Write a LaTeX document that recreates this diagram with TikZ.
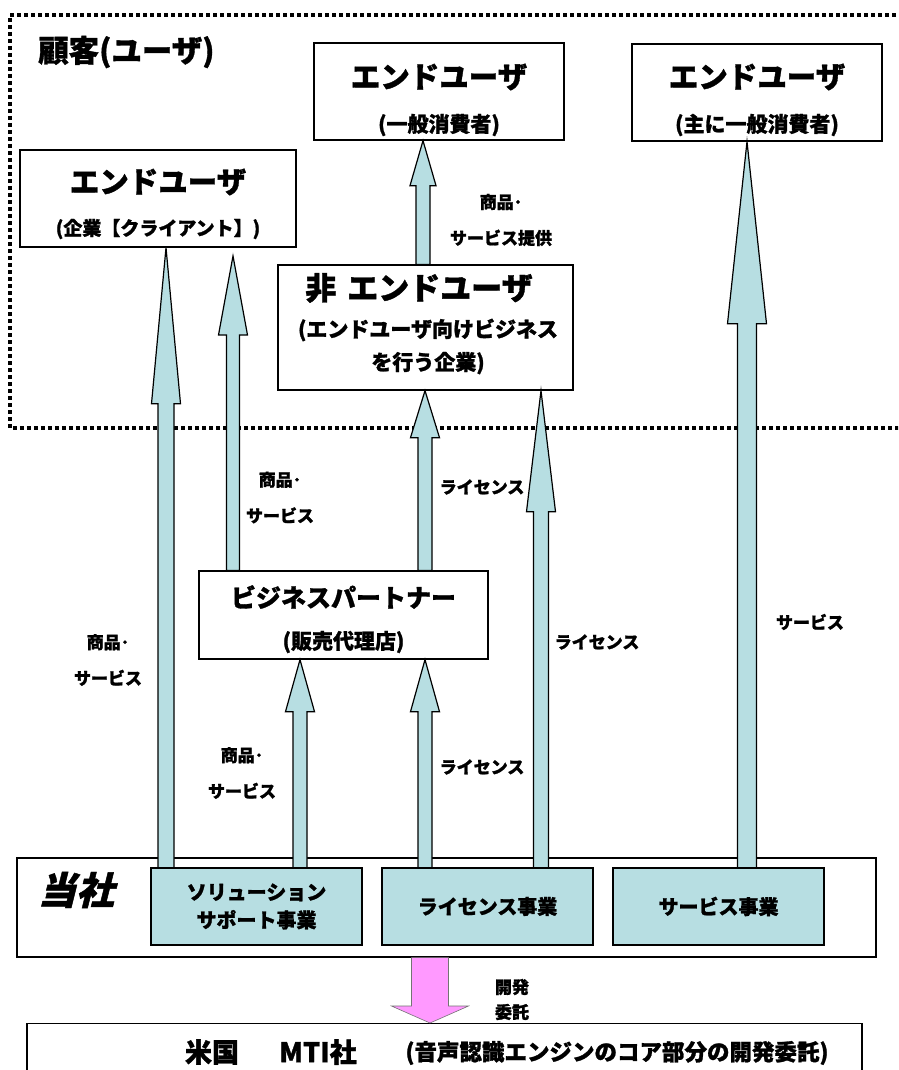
\documentclass[tikz,border=0pt]{standalone}
\usepackage{fontspec}
\setmainfont{Noto Sans CJK JP}[BoldFeatures={FakeBold=1.2}]
\newfontfamily\jpsl{Noto Sans CJK JP}[FakeSlant=0.25, BoldFeatures={FakeBold=1.2}]
\usetikzlibrary{calc}
\definecolor{teal1}{RGB}{183,222,226}
\definecolor{pink1}{RGB}{255,153,255}
\newcommand\blockarrow[6][barrow]{%
  \draw[#1] ($(#2)+(-#5,0)$) -- ($(#3)+(-#5,#4)$) -- ($(#3)+(-#6,#4)$) -- (#3)
    -- ($(#3)+(#6,#4)$) -- ($(#3)+(#5,#4)$) -- ($(#2)+(#5,0)$) -- cycle;}
\tikzset{
  box/.style={draw, line width=1.3pt, fill=white, inner sep=0pt},
  subbox/.style={draw, line width=1.3pt, fill=teal1, inner sep=0pt,
    minimum width=211pt, minimum height=77pt, align=center,
    font=\bfseries\fontsize{20}{28}\selectfont},
  barrow/.style={draw, line width=1.2pt, fill=teal1, line join=miter},
  parrow/.style={draw=black!55, line width=0.6pt, fill=pink1, line join=miter},
  lbl/.style={font=\bfseries\fontsize{17}{36}\selectfont, align=center, inner sep=0pt},
  ttl/.style={font=\bfseries\fontsize{29.5}{34}\selectfont, inner sep=0pt},
  subt/.style={font=\bfseries\fontsize{21}{33}\selectfont, inner sep=0pt, align=center},
  dotb/.style={line width=3.5pt, dash pattern=on 4pt off 3pt},
}
\begin{document}
\begin{tikzpicture}[x=1pt,y=-1pt]
\clip (0,0) rectangle (898,1070);
\fill[white] (0,0) rectangle (898,1070);
% customer region
\draw[dotb] (910,15) -- (10,15) -- (10,428) -- (910,428);
\node[anchor=west, inner sep=0pt, font=\bfseries\fontsize{30.5}{34}\selectfont] (cust) at (38,52) {顧客(ユーザ)};

% boxes
\node[box, minimum width=276pt, minimum height=97pt] (boxA) at (158,198.5) {};
\node[box, minimum width=250pt, minimum height=97pt] (boxB) at (439,91.5) {};
\node[box, minimum width=250pt, minimum height=97pt] (boxC) at (757,92.5) {};
\node[box, minimum width=295pt, minimum height=125pt] (boxD) at (425.5,327.5) {};
\node[box, minimum width=289pt, minimum height=88pt] (boxE) at (343.5,615) {};
\node[box, minimum width=859pt, minimum height=99pt] (comp) at (446.5,907.5) {};
\node[box, minimum width=835pt, minimum height=90pt, anchor=north] (mti) at (444.5,1023) {};

% box texts
\node[ttl] (tA) at (158,182) {エンドユーザ};
\node[subt, font=\bfseries\fontsize{19}{30}\selectfont] (sA) at (158,229) {(企業【クライアント】)};
\node[ttl] (tB) at (439,77) {エンドユーザ};
\node[subt] (sB) at (439,125) {(一般消費者)};
\node[ttl] (tC) at (757,77) {エンドユーザ};
\node[subt] (sC) at (757,125) {(主に一般消費者)};
\node[ttl, font=\bfseries\fontsize{31}{34}\selectfont] (tD) at (419,288) {非\hspace{0.35em}エンドユーザ};
\node[subt] (sD) at (428,346.5) {(エンドユーザ向けビジネス\\を行う企業)};
\node[ttl, font=\bfseries\fontsize{25}{30}\selectfont] (tE) at (343.5,597) {ビジネスパートナー};
\node[subt] (sE) at (343.5,642) {(販売代理店)};
\node[inner sep=0pt, font=\jpsl\bfseries\fontsize{38}{42}\selectfont] (tosha) at (76,890) {当社};

% arrow columns
\coordinate (c1) at (166,0);
\coordinate (c2) at (233,0);
\coordinate (c3) at (300,0);
\coordinate (c4) at (425,0);
\coordinate (c6) at (541,0);
\coordinate (c7) at (423,0);
\coordinate (c8) at (747,0);
\coordinate (c9) at (430,0);
\coordinate (a2tip) at (233,256);

% teal block arrows
\blockarrow{c1 |- 0,868}{c1 |- boxA.south}{156}{8}{14.5}
\blockarrow{c2 |- boxE.north}{a2tip}{79}{6.5}{14.5}
\blockarrow{c3 |- 0,868}{c3 |- boxE.south}{52}{7}{14.5}
\blockarrow{c4 |- boxE.north}{c4 |- boxD.south}{47}{7}{14.5}
\blockarrow{c4 |- 0,868}{c4 |- boxE.south}{52}{7}{14.5}
\blockarrow{c6 |- 0,868}{c6 |- boxD.south}{121}{7.5}{14.5}
\blockarrow{c7 |- boxD.north}{c7 |- boxB.south}{45}{7}{13}
\blockarrow{c8 |- 0,868}{c8 |- boxC.south}{182}{9.5}{19.5}

% business units
\node[subbox] (s1) at (256.5,906.5) {ソリューション\\サポート事業};
\node[subbox] (s2) at (487.5,906.5) {ライセンス事業};
\node[subbox] (s3) at (718.5,906.5) {サービス事業};

% development arrow
\blockarrow[parrow]{c9 |- comp.south}{c9 |- mti.north}{-17}{18.5}{38.5}

% arrow labels
\node[lbl] (l1) at (108,660) {商品･\\サービス};
\node[lbl] (l2) at (280,497.5) {商品･\\サービス};
\node[lbl] (l3) at (242,773) {商品･\\サービス};
\node[lbl] (l7) at (501,220) {商品･\\サービス提供};
\node[lbl] (l4) at (482,487) {ライセンス};
\node[lbl] (l6) at (597,642) {ライセンス};
\node[lbl] (l5) at (482,767) {ライセンス};
\node[lbl] (l8) at (810,622) {サービス};
\node[lbl, font=\bfseries\fontsize{17}{25}\selectfont] (l9) at (512,999.5) {開発\\委託};

% MTI row
\node[inner sep=0pt, font=\bfseries\fontsize{27}{30}\selectfont] (us) at (212,1052) {米国};
\node[inner sep=0pt, font=\bfseries\fontsize{27}{30}\selectfont] (mtin) at (318,1052) {MTI社};
\node[inner sep=0pt, font=\bfseries\fontsize{22.5}{30}\selectfont] (mtid) at (617,1053) {(音声認識エンジンのコア部分の開発委託)};
\end{tikzpicture}
\end{document}
